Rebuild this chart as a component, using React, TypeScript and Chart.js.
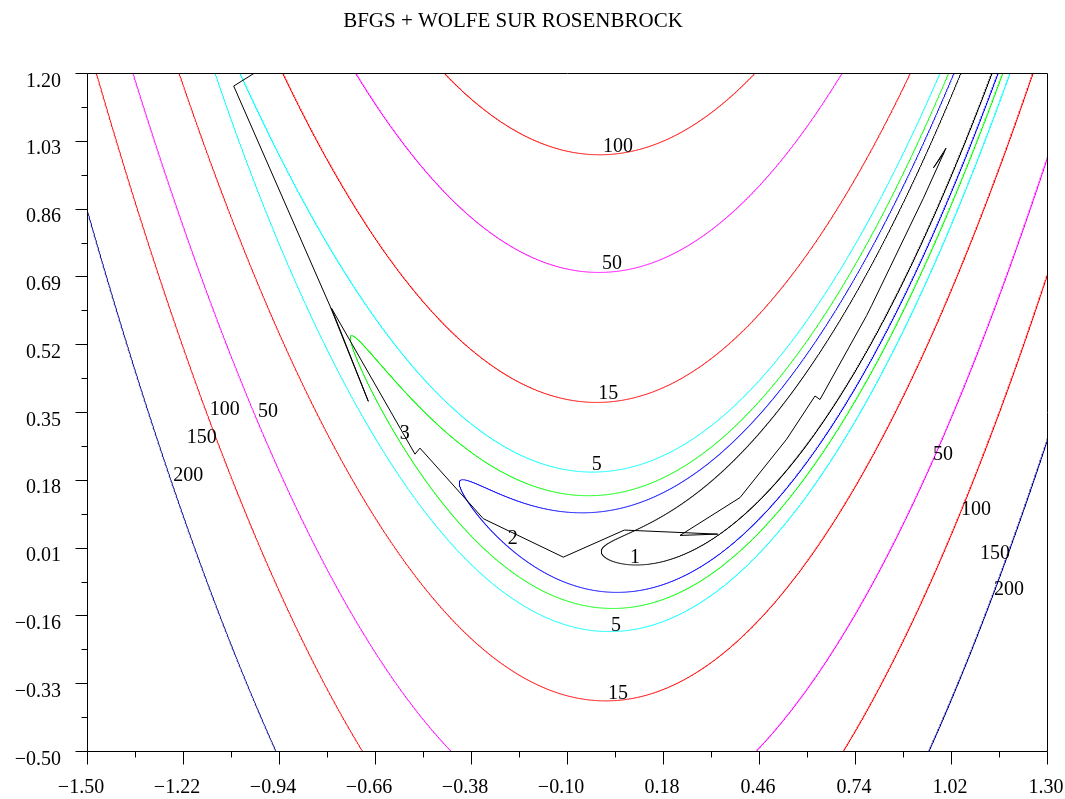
import React, { useEffect, useRef } from "react";
import { Chart, registerables } from "chart.js";

Chart.register(...registerables);

// ---------- data ----------
const TITLE = "BFGS + WOLFE SUR ROSENBROCK";
const X_MIN = -1.5;
const X_MAX = 1.3;
const Y_MIN = -0.5;
const Y_MAX = 1.2;

const xTicks = [-1.5, -1.22, -0.94, -0.66, -0.38, -0.1, 0.18, 0.46, 0.74, 1.02, 1.3];
const yTicks = [-0.5, -0.33, -0.16, 0.01, 0.18, 0.35, 0.52, 0.69, 0.86, 1.03, 1.2];

// Rosenbrock f(x,y) = B*(y - x^2)^2 + (A - x)^2
const ROSEN_A = 1;
const ROSEN_B = 100;

// contour levels and their (Scilab colormap) colours
const levels = [1, 2, 3, 5, 15, 50, 100, 150, 200];
const levelColors = [
  "#000000",
  "#0000FF",
  "#00FF00",
  "#00FFFF",
  "#FF0000",
  "#FF00FF",
  "#FF0000",
  "#FFFFFF",
  "#00008F",
];

// contour labels
const labelTexts = ["100", "50", "15", "5", "3", "2", "1", "5", "15", "100", "150", "50", "200", "50", "100", "150", "200"];
const labelX = [0.049, 0.031, 0.02, -0.013, -0.573, -0.258, 0.098, 0.043, 0.049, -1.098, -1.165, -0.972, -1.205, 0.997, 1.093, 1.148, 1.189];
const labelY = [1.016, 0.722, 0.395, 0.217, 0.295, 0.031, -0.015, -0.186, -0.357, 0.355, 0.285, 0.35, 0.191, 0.242, 0.106, -0.005, -0.095];

// BFGS + Wolfe iterates
const pathX = [-0.847, -1.0721, -0.7912, -0.6795, -0.7869, -0.5433, -0.5288, -0.3441, -0.1108, 0.0671, 0.3395, 0.2296, 0.4046, 0.5408, 0.6233, 0.6379, 0.7741, 0.7887, 0.9392, 1.0054, 0.9689, 1.0];
const pathY = [1.288, 1.1673, 0.6157, 0.3768, 0.6102, 0.2443, 0.2594, 0.0825, -0.014, 0.0539, 0.0438, 0.0405, 0.1354, 0.282, 0.3901, 0.3813, 0.5921, 0.6173, 0.8856, 1.0114, 0.9623, 1.0];

// ---------- helpers ----------
function levelCurve(c: number) {
  // points where B*(y-x^2)^2 + (A-x)^2 = c, parameterised by angle
  const r = Math.sqrt(c);
  const ca = Math.min(1, (ROSEN_A - (X_MIN - 0.05)) / r);
  const cb = Math.max(-1, (ROSEN_A - (X_MAX + 0.05)) / r);
  const ta = Math.acos(ca);
  const tb = Math.acos(cb);
  const n = 2400;
  const k = Math.sqrt(ROSEN_B);
  const pts: { x: number; y: number }[] = [];
  for (let i = n; i >= 0; i--) {
    const t = ta + ((tb - ta) * i) / n;
    const x = ROSEN_A - r * Math.cos(t);
    pts.push({ x, y: x * x - (r * Math.sin(t)) / k });
  }
  for (let i = 0; i <= n; i++) {
    const t = ta + ((tb - ta) * i) / n;
    const x = ROSEN_A - r * Math.cos(t);
    pts.push({ x, y: x * x + (r * Math.sin(t)) / k });
  }
  return pts;
}

function fmt(v: number) {
  const s = Math.abs(v).toFixed(2);
  return v < 0 ? "\u2212" + s : s;
}

const FONT = "'Liberation Serif', 'DejaVu Serif', serif";

const decorPlugin = {
  id: "decor",
  afterDatasetsDraw(chart: any) {
    const ctx = chart.ctx as CanvasRenderingContext2D;
    const xs = chart.scales.x;
    const ys = chart.scales.y;
    const { left, right, top, bottom } = chart.chartArea;
    ctx.save();

    // contour labels
    ctx.fillStyle = "#000";
    ctx.font = `20px ${FONT}`;
    ctx.textAlign = "center";
    ctx.textBaseline = "middle";
    for (let i = 0; i < labelTexts.length; i++) {
      ctx.fillText(labelTexts[i], xs.getPixelForValue(labelX[i]), ys.getPixelForValue(labelY[i]));
    }

    // frame
    ctx.strokeStyle = "#000";
    ctx.lineWidth = 1;
    const L = Math.round(left) + 0.5;
    const R = Math.round(right) + 0.5;
    const T = Math.round(top) + 0.5;
    const B = Math.round(bottom) + 0.5;
    ctx.beginPath();
    ctx.moveTo(L, T);
    ctx.lineTo(R, T);
    ctx.lineTo(R, B);
    ctx.lineTo(L, B);
    ctx.closePath();
    ctx.stroke();

    // ticks
    ctx.beginPath();
    for (let i = 0; i < xTicks.length; i++) {
      const px = Math.round(xs.getPixelForValue(xTicks[i])) + 0.5;
      ctx.moveTo(px, B);
      ctx.lineTo(px, B + 13);
      if (i < xTicks.length - 1) {
        const pm = Math.round(xs.getPixelForValue((xTicks[i] + xTicks[i + 1]) / 2)) + 0.5;
        ctx.moveTo(pm, B);
        ctx.lineTo(pm, B + 6);
      }
    }
    for (let i = 0; i < yTicks.length; i++) {
      const py = Math.round(ys.getPixelForValue(yTicks[i])) + 0.5;
      ctx.moveTo(L, py);
      ctx.lineTo(L - 12, py);
      if (i < yTicks.length - 1) {
        const pm = Math.round(ys.getPixelForValue((yTicks[i] + yTicks[i + 1]) / 2)) + 0.5;
        ctx.moveTo(L, pm);
        ctx.lineTo(L - 6, pm);
      }
    }
    ctx.stroke();

    // tick labels
    ctx.font = `20px ${FONT}`;
    ctx.textBaseline = "alphabetic";
    ctx.textAlign = "center";
    for (let i = 0; i < xTicks.length; i++) {
      const px = xs.getPixelForValue(xTicks[i]);
      const off = xTicks[i] < 0 ? -6 : -1;
      ctx.fillText(fmt(xTicks[i]), px + off, 793);
    }
    ctx.textAlign = "right";
    for (let i = 0; i < yTicks.length; i++) {
      const py = ys.getPixelForValue(yTicks[i]);
      ctx.fillText(fmt(yTicks[i]), 61, py + 13.5);
    }

    // title
    ctx.font = `21px ${FONT}`;
    ctx.textAlign = "center";
    ctx.fillText(TITLE, 513, 26.5);
    ctx.restore();
  },
};

export default function App() {
  const ref = useRef<HTMLCanvasElement | null>(null);
  useEffect(() => {
    if (!ref.current) return;
    const datasets: any[] = [];
    datasets.push({
      label: "BFGS",
      data: pathX.map((x, i) => ({ x, y: pathY[i] })),
      borderColor: "#000000",
      borderWidth: 1,
      pointRadius: 0,
      showLine: true,
      tension: 0,
    });
    levels.forEach((c, i) => {
      datasets.push({
        label: String(c),
        data: levelCurve(c),
        borderColor: levelColors[i],
        borderWidth: 1,
        pointRadius: 0,
        showLine: true,
        tension: 0,
      });
    });
    const chart = new Chart(ref.current, {
      type: "scatter",
      data: { datasets },
      options: {
        responsive: false,
        animation: false,
        events: [],
        layout: { padding: { left: 87, right: 18, top: 73, bottom: 48 } },
        scales: {
          x: { type: "linear", min: X_MIN, max: X_MAX, display: false },
          y: { type: "linear", min: Y_MIN, max: Y_MAX, display: false },
        },
        plugins: {
          legend: { display: false },
          tooltip: { enabled: false },
          title: { display: false },
        },
      },
      plugins: [decorPlugin],
    });
    return () => chart.destroy();
  }, []);
  return (
    <div style={{ position: "fixed", left: 0, top: 0, width: 1065, height: 799, background: "#fff" }}>
      <canvas ref={ref} width={1065} height={799} style={{ display: "block" }} />
    </div>
  );
}
